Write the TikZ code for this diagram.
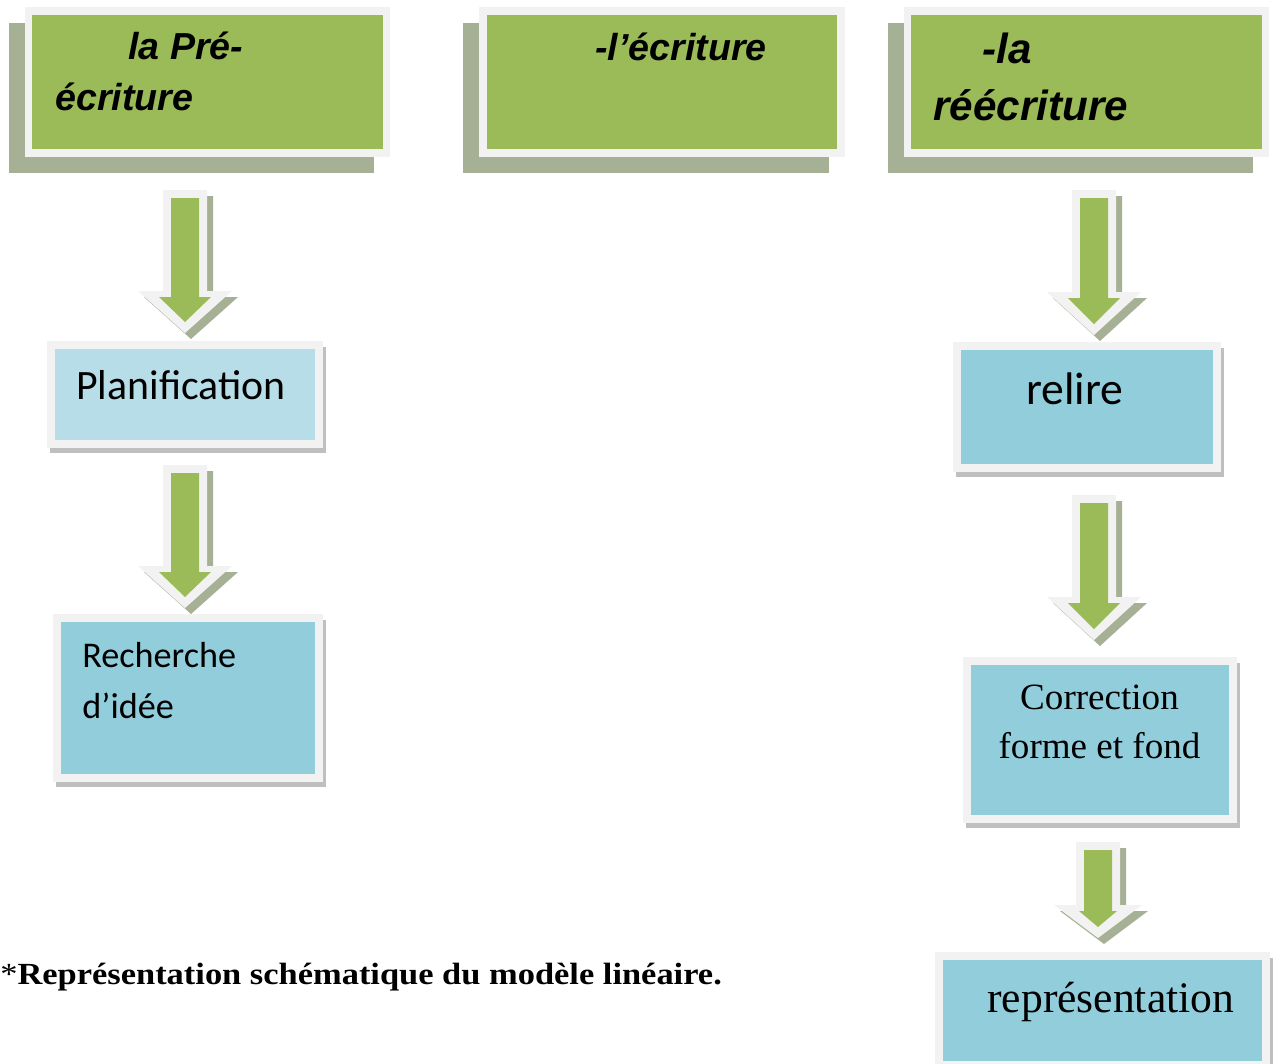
\documentclass[tikz,border=0pt]{standalone}
\usepackage{fontspec}
\setmainfont{Liberation Serif}
\newfontfamily\arialfont{Liberation Sans}
\newfontfamily\calfont{Carlito}

\definecolor{hdrgreen}{HTML}{9BBB59}
\definecolor{hdrshadow}{HTML}{A6B094}
\definecolor{framegray}{HTML}{F2F2F2}
\definecolor{paleblue}{HTML}{B7DDE8}
\definecolor{stepblue}{HTML}{92CDDC}
\definecolor{boxshadow}{HTML}{BFBFBF}

\begin{document}
\begin{tikzpicture}[x=0.02cm, y=-0.02cm,
    header/.style ={rectangle, draw=framegray, line width=4.5pt, fill=hdrgreen,
      minimum width=7.16cm, minimum height=2.84cm, inner sep=0pt,
      preaction={draw=hdrshadow, fill=hdrshadow, line width=4.5pt,
        transform canvas={shift={(-0.32cm,-0.32cm)}}}},
    stepbox/.style ={rectangle, draw=framegray, line width=4.5pt, fill=stepblue,
      inner sep=0pt,
      preaction={draw=boxshadow, fill=boxshadow, line width=4.5pt,
        transform canvas={shift={(0.06cm,-0.11cm)}}}},
    hdrtext/.style ={anchor=base west, inner sep=0pt,
      font=\arialfont\bfseries\itshape\fontsize{21.4pt}{25pt}\selectfont},
    steptext/.style ={anchor=base west, inner sep=0pt}]
   \fill[white] (0,0) rectangle (1275,1063);
   \useasboundingbox (0,0) rectangle (1275,1063);

   % the three stages
   \node[header] (pre) at (207.5,82) {};
   \node[header] (ecr) at (662,82) {};
   \node[header] (reecr) at (1086.5,82) {};
   \node[hdrtext] (pre-a) at (128,59) {la Pré-};
   \node[hdrtext] (pre-b) at (55,110) {écriture};
   \node[hdrtext] (ecr-a) at (595,60) {-l’écriture};
   \node[hdrtext, font=\arialfont\bfseries\itshape\fontsize{24pt}{28pt}\selectfont] (reecr-a) at (982,63) {-la};
   \node[hdrtext, font=\arialfont\bfseries\itshape\fontsize{24pt}{28pt}\selectfont] (reecr-b) at (933,120) {réécriture};

   % boxes below
   \node[stepbox, fill=paleblue, minimum width=5.36cm, minimum height=1.98cm] (plan) at (185,394.5) {};
   \node[stepbox, minimum width=5.24cm, minimum height=3.2cm] (rech) at (188,698) {};
   \node[stepbox, minimum width=5.2cm, minimum height=2.44cm] (relire) at (1087,407) {};
   \node[stepbox, minimum width=5.32cm, minimum height=3.16cm] (corr) at (1100,740) {};
   \node[stepbox, minimum width=6.54cm, minimum height=2.18cm] (repr) at (1102.5,1010.5) {};

   \node[steptext, font=\calfont\fontsize{23.8pt}{28pt}\selectfont] (plan-a) at (76,399) {Planification};
   \node[steptext, font=\calfont\fontsize{20.6pt}{25pt}\selectfont] (rech-a) at (82,667) {Recherche};
   \node[steptext, font=\calfont\fontsize{20.6pt}{25pt}\selectfont] (rech-b) at (82,718) {d’idée};
   \node[steptext, font=\calfont\fontsize{26pt}{30pt}\selectfont] (relire-a) at (1026,404) {relire};
   \node[steptext, anchor=base, font=\fontsize{21.1pt}{25pt}\selectfont] (corr-a) at (1099.5,709) {Correction};
   \node[steptext, anchor=base, font=\fontsize{21.1pt}{25pt}\selectfont] (corr-b) at (1099.5,758) {forme et fond};
   \node[steptext, font=\fontsize{24.8pt}{29pt}\selectfont] (repr-a) at (987,1012) {représentation};

   % block arrows
   \foreach \cx/\ty/\hy/\by/\hw/\gw in {185/190/291/333/47/26, 185/465/566/608/47/26,
       1094/190/292/335/47/26, 1094/495/597/640/47/26, 1098/842/905/938/44/19} {
     \fill[hdrshadow, shift={(6,6)}] (\cx-22,\ty) -- (\cx+22,\ty) -- (\cx+22,\hy) -- (\cx+\hw,\hy)
        -- (\cx,\by) -- (\cx-\hw,\hy) -- (\cx-22,\hy) -- cycle;
     \fill[framegray] (\cx-22,\ty) -- (\cx+22,\ty) -- (\cx+22,\hy) -- (\cx+\hw,\hy)
        -- (\cx,\by) -- (\cx-\hw,\hy) -- (\cx-22,\hy) -- cycle;
     \fill[hdrgreen] (\cx-14,\ty+8) -- (\cx+14,\ty+8) -- (\cx+14,\hy+6) -- (\cx+\gw,\hy+6)
        -- (\cx,\by-11) -- (\cx-\gw,\hy+6) -- (\cx-14,\hy+6) -- cycle;
   }

   \node[steptext, font=\fontsize{17.5pt}{21pt}\selectfont] (caption) at (0,984)
      {\scalebox{1.12}[1]{*\textbf{Représentation schématique du modèle linéaire.}}};
 \end{tikzpicture}
\end{document}
